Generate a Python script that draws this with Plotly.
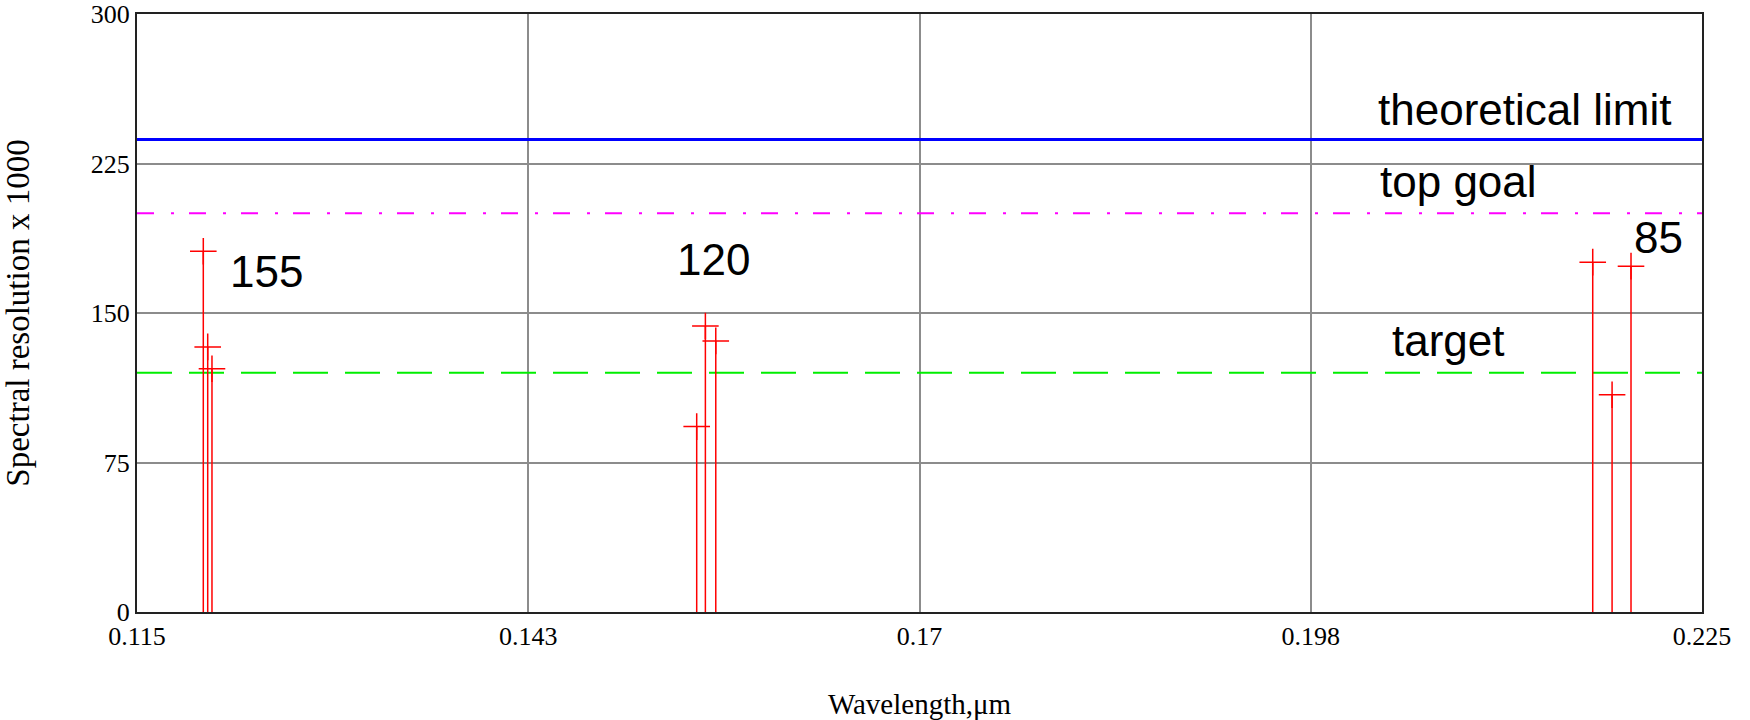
import plotly.graph_objects as go

# Measured spectral resolution (x1000) at each wavelength, three detector groups
wavelength_um = [0.11966, 0.11997, 0.12027,
                 0.15434, 0.15495, 0.15568,
                 0.21732, 0.21868, 0.22001]
resolution_k = [181, 133, 122,
                93, 143.5, 136,
                175.5, 109, 173.5]

# Reference levels
theoretical_limit = 237
top_goal = 200
target = 120

# Group labels and where they sit
group_labels = ["155", "120", "85"]
group_label_x = [0.1214, 0.1528, 0.2201]
group_label_y = [171, 177, 188]

level_names = ["theoretical limit", "top goal", "target"]
level_label_x = [0.2021, 0.2022, 0.2031]
level_label_y = [252, 216, 136]

x_ticks = [0.115, 0.1425, 0.17, 0.1975, 0.225]
x_tick_text = ["0.115", "0.143", "0.17", "0.198", "0.225"]
y_ticks = [0, 75, 150, 225, 300]
x_range = [0.115, 0.225]
y_range = [0, 300]

fig = go.Figure()

# Horizontal reference lines across the full wavelength range
fig.add_trace(go.Scatter(x=x_range, y=[theoretical_limit] * 2, mode="lines",
                         line=dict(color="#0000ff", width=3), hoverinfo="skip"))
fig.add_trace(go.Scatter(x=x_range, y=[top_goal] * 2, mode="lines",
                         line=dict(color="#ff00ff", width=2, dash="17px,17px,3px,15px"),
                         hoverinfo="skip"))
fig.add_trace(go.Scatter(x=x_range, y=[target] * 2, mode="lines",
                         line=dict(color="#00ee00", width=2, dash="35px,17px"),
                         hoverinfo="skip"))

# Stems from zero up to each measurement
stem_x, stem_y = [], []
for w, r in zip(wavelength_um, resolution_k):
    stem_x += [w, w, None]
    stem_y += [0, r, None]
fig.add_trace(go.Scatter(x=stem_x, y=stem_y, mode="lines",
                         line=dict(color="#ff0000", width=1.5), hoverinfo="skip"))

# Cross markers at the stem tips
fig.add_trace(go.Scatter(x=wavelength_um, y=resolution_k, mode="markers",
                         marker=dict(symbol="cross-thin", size=19, color="#ff0000",
                                     line=dict(color="#ff0000", width=1.5))))

label_font = dict(family="Liberation Sans, Arial, sans-serif", size=44, color="#000000")
for txt, x, y in zip(group_labels + level_names,
                     group_label_x + level_label_x,
                     group_label_y + level_label_y):
    fig.add_annotation(x=x, y=y, text=txt, showarrow=False,
                       xanchor="left", yanchor="middle", font=label_font)

serif = "Liberation Serif, Times New Roman, serif"
fig.update_layout(
    width=1750, height=720,
    margin=dict(l=137, r=48, t=14, b=108),
    paper_bgcolor="#ffffff", plot_bgcolor="#ffffff",
    showlegend=False,
    xaxis=dict(range=x_range, tickvals=x_ticks, ticktext=x_tick_text,
               automargin=False,
               showgrid=True, gridcolor="#8c8c8c", gridwidth=1.5,
               zeroline=False, showline=True, linecolor="#222222", linewidth=2,
               mirror=True, ticks="",
               tickfont=dict(family=serif, size=26, color="#000000"),
               title=dict(text="Wavelength,μm", standoff=44,
                          font=dict(family=serif, size=29, color="#000000"))),
    yaxis=dict(range=y_range, tickvals=y_ticks,
               automargin=False,
               showgrid=True, gridcolor="#8c8c8c", gridwidth=1.5,
               zeroline=False, showline=True, linecolor="#222222", linewidth=2,
               mirror=True, ticks="",
               tickfont=dict(family=serif, size=26, color="#000000"),
               title=dict(text="Spectral resolution x 1000", standoff=52,
                          font=dict(family=serif, size=33, color="#000000"))),
)

fig.write_html("out.html")
